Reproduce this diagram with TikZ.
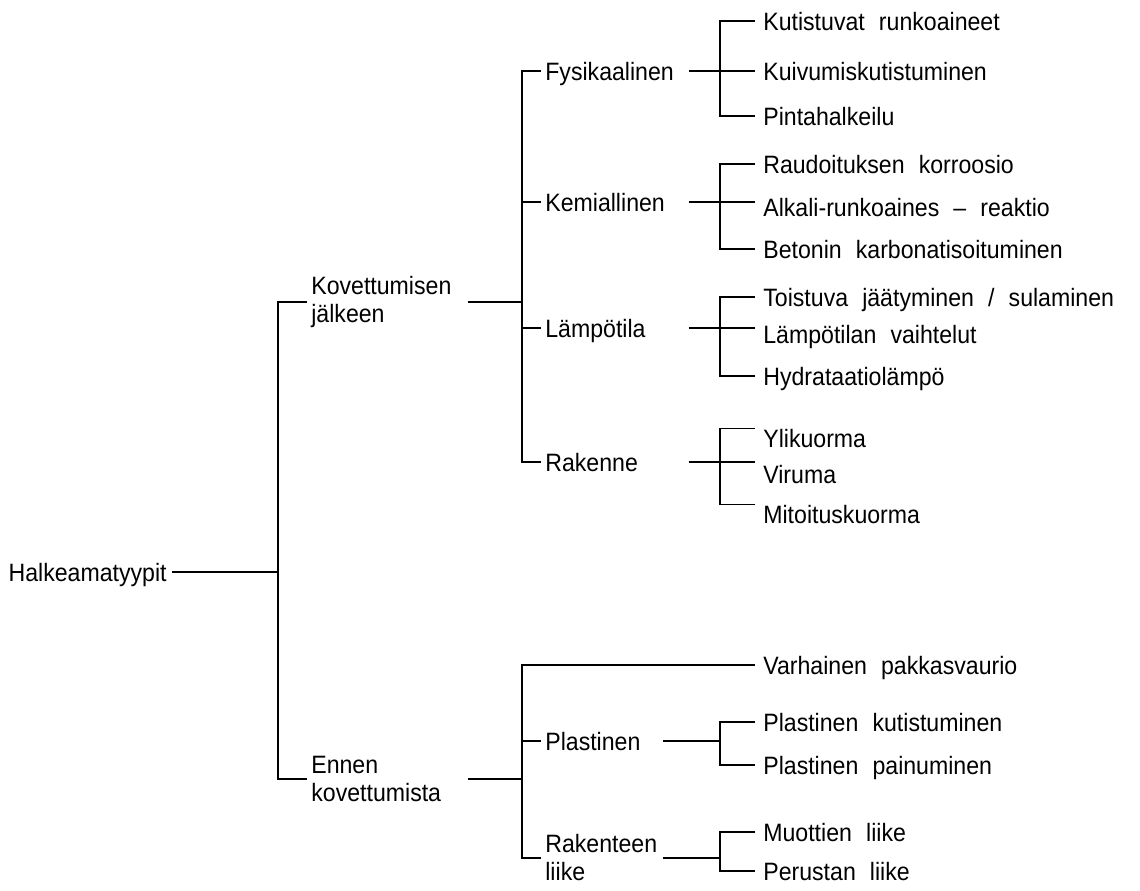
\documentclass[tikz,border=0pt]{standalone}
\usepackage{fontspec}
\setmainfont[FakeStretch=0.92,WordSpace=2.2]{Liberation Sans}
\tikzset{
  brline/.style={line width=0.75pt},
  lbl/.style={font=\fontsize{14.3pt}{16pt}\selectfont, inner ysep=0pt, text height=0.36cm, text depth=0pt},
  toplbl/.style={lbl, anchor=east, inner xsep=0.1cm},
  lvlone/.style={lbl, anchor=west, inner xsep=0.08cm, text width=3.04cm, align=left, text depth=},
  lvltwo/.style={lbl, anchor=west, inner xsep=0.08cm, text width=2.78cm, align=left},
  leaf/.style={lbl, anchor=west, inner xsep=0.16cm}
}
\begin{document}
\begin{tikzpicture}[x=0.02cm,y=-0.02cm]
\useasboundingbox (0,0) rectangle (1140,890);
\node[toplbl] (halk) at (172,572) {Halkeamatyypit};
\coordinate (trunk) at (278,572);
\node[lvlone] (kov) at (307,302) {Kovettumisen\\jälkeen};
\node[lvlone] (ennen) at (307,779) {Ennen\\kovettumista};
\coordinate (upper) at (522,302);
\coordinate (lower) at (522,779);
\node[lvltwo] (fys) at (541,71) {Fysikaalinen};
\node[lvltwo] (kem) at (541,202) {Kemiallinen};
\node[lvltwo] (lamp) at (541,328) {Lämpötila};
\node[lvltwo] (rak) at (541,462) {Rakenne};
\node[lvltwo, text width=2.26cm] (plas) at (541,741) {Plastinen};
\node[lvltwo, text width=2.26cm, text depth=] (rakl) at (541,858) {Rakenteen\\liike};
\coordinate (fsub) at (720,71);
\coordinate (ksub) at (720,202);
\coordinate (lsub) at (720,328);
\coordinate (rsub) at (720,462);
\coordinate (psub) at (720,741);
\node[leaf] (kut) at (755,21) {Kutistuvat runkoaineet};
\node[leaf] (kui) at (755,71) {Kuivumiskutistuminen};
\node[leaf] (pin) at (755,116) {Pintahalkeilu};
\node[leaf] (rau) at (755,164) {Raudoituksen korroosio};
\node[leaf] (alk) at (755,207) {Alkali-runkoaines -- reaktio};
\node[leaf] (bet) at (755,249) {Betonin karbonatisoituminen};
\node[leaf] (toi) at (755,297) {Toistuva jäätyminen / sulaminen};
\node[leaf] (vai) at (755,334) {Lämpötilan vaihtelut};
\node[leaf] (hyd) at (755,376) {Hydrataatiolämpö};
\node[leaf] (yli) at (755,438) {Ylikuorma};
\node[leaf] (vir) at (755,474) {Viruma};
\node[leaf] (mit) at (755,514) {Mitoituskuorma};
\node[leaf] (pva) at (755,665) {Varhainen pakkasvaurio};
\node[leaf] (pku) at (755,722) {Plastinen kutistuminen};
\node[leaf] (ppa) at (755,765) {Plastinen painuminen};
\node[leaf] (muo) at (755,832) {Muottien liike};
\node[leaf] (per) at (755,871) {Perustan liike};
\draw[brline] (halk) -- (trunk);
\draw[brline] (kov.west) -| (trunk) |- (ennen.west);
\draw[brline] (kov.east) -- (upper);
\draw[brline] (fys.west) -| (upper) |- (rak.west);
\draw[brline] (kem.west) -- (kem.west -| upper);
\draw[brline] (lamp.west) -- (lamp.west -| upper);
\draw[brline] (ennen.east) -- (lower);
\draw[brline] (pva.west) -| (lower) |- (rakl.west);
\draw[brline] (plas.west) -- (plas.west -| lower);
\draw[brline] (fys.east) -- (kui.west);
\draw[brline] (kut.west) -| (fsub) |- (pin.west);
\draw[brline] (kem.east) -- (kem.east -| alk.west);
\draw[brline] (rau.west) -| (ksub) |- (bet.west);
\draw[brline] (lamp.east) -- (lamp.east -| vai.west);
\draw[brline] (toi.west) -| (lsub) |- (hyd.west);
\draw[brline] (rak.east) -- (rak.east -| vir.west);
\draw[brline] (yli.north west) -| (rsub) |- (mit.north west);
\draw[brline] (plas.east) -- (psub);
\draw[brline] (pku.west) -| (psub) |- (ppa.west);
\draw[brline] (muo.west) -| (rakl.east -| psub) |- (per.west);
\draw[brline] (rakl.east) -- (rakl.east -| psub);
\end{tikzpicture}
\end{document}
